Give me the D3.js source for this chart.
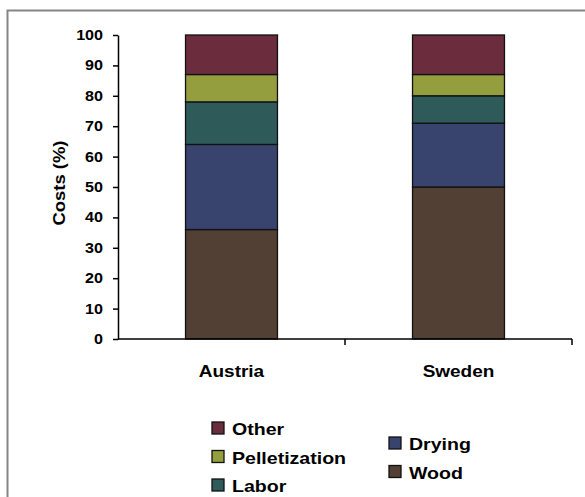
<!DOCTYPE html>
<html>
<head>
<meta charset="utf-8">
<script src="https://cdn.jsdelivr.net/npm/d3@7"></script>
<style>
  html, body { margin: 0; padding: 0; background: #fff; }
  svg { display: block; }
  text { font-family: "Liberation Sans", Arial, sans-serif; font-weight: bold; fill: #000; }
</style>
</head>
<body>
<svg id="chart" width="585" height="497"></svg>
<script>
// Cost breakdown per country (percent of total), stacked bottom to top
const categories = ["Austria", "Sweden"];
const seriesNames = ["Wood", "Drying", "Labor", "Pelletization", "Other"];
const wood = [36, 50];
const drying = [28, 21];
const labor = [14, 9];
const pelletization = [9, 7];
const other = [13, 13];
const yTicks = [0, 10, 20, 30, 40, 50, 60, 70, 80, 90, 100];
const colors = ["#524034", "#38446e", "#2e5b5a", "#959e3e", "#6b2c3e"];

const seriesValues = [wood, drying, labor, pelletization, other];
const rows = categories.map((c, i) => {
  const r = { category: c };
  seriesNames.forEach((s, k) => { r[s] = seriesValues[k][i]; });
  return r;
});

const svg = d3.select("#chart");
const stretch = 1.15;

// widen glyphs horizontally
function widen(sel) {
  sel.each(function () {
    const w = this.getComputedTextLength();
    d3.select(this).attr("textLength", w * stretch).attr("lengthAdjust", "spacingAndGlyphs");
  });
}

// outer frame
svg.append("rect")
  .attr("x", 7.5).attr("y", 10.5).attr("width", 600).attr("height", 520)
  .attr("fill", "none").attr("stroke", "#858585").attr("stroke-width", 2);

const x0 = 118, x1 = 572, yTop = 35, yBot = 339;

const x = d3.scaleBand().domain(categories).range([x0, x1])
  .paddingInner(0.595).paddingOuter(0.2975);
const y = d3.scaleLinear().domain([0, 100]).range([yBot, yTop]);

const stack = d3.stack().keys(seriesNames);
const layers = stack(rows);

const g = svg.append("g");
g.selectAll("g.layer").data(layers).join("g")
  .attr("class", "layer")
  .attr("fill", (d, i) => colors[i])
  .selectAll("rect").data(d => d).join("rect")
  .attr("x", d => x(d.data.category))
  .attr("width", x.bandwidth())
  .attr("y", d => y(d[1]))
  .attr("height", d => y(d[0]) - y(d[1]))
  .attr("stroke", "#111").attr("stroke-width", 1.3);

// y axis
const yAxis = svg.append("g")
  .attr("transform", `translate(${x0},0)`)
  .call(d3.axisLeft(y).tickValues(yTicks).tickSize(5).tickPadding(10).tickSizeOuter(0));
yAxis.select(".domain").attr("stroke", "#000").attr("stroke-width", 1.5);
yAxis.selectAll(".tick line").attr("stroke", "#000").attr("stroke-width", 1.5);
yAxis.selectAll(".tick text")
  .style("font-size", "14px").style("font-family", "Liberation Sans, Arial, sans-serif")
  .style("font-weight", "bold").attr("fill", "#000")
  .call(widen);

// x axis line with ticks at category boundaries
const step = x.step();
svg.append("line")
  .attr("x1", x0).attr("x2", x1).attr("y1", yBot).attr("y2", yBot)
  .attr("stroke", "#000").attr("stroke-width", 1.5);
const bounds = d3.range(1, categories.length + 1).map(i => x0 + i * (x1 - x0) / categories.length);
svg.selectAll("line.xtick").data(bounds).join("line")
  .attr("class", "xtick")
  .attr("x1", d => d).attr("x2", d => d)
  .attr("y1", yBot).attr("y2", yBot + 6)
  .attr("stroke", "#000").attr("stroke-width", 1.5);

svg.selectAll("text.cat").data(categories).join("text")
  .attr("class", "cat")
  .attr("x", d => x(d) + x.bandwidth() / 2)
  .attr("y", 377)
  .attr("text-anchor", "middle")
  .style("font-size", "16.5px")
  .text(d => d)
  .call(widen);

// y axis title
svg.append("text")
  .attr("transform", "translate(65,183) rotate(-90)")
  .attr("text-anchor", "middle")
  .style("font-size", "16px")
  .text("Costs (%)")
  .call(widen);

// legend: two columns
const legendItems = [
  { name: "Other", col: 0, row: 0 },
  { name: "Pelletization", col: 0, row: 1 },
  { name: "Labor", col: 0, row: 2 },
  { name: "Drying", col: 1, row: 0 },
  { name: "Wood", col: 1, row: 1 }
];
const colX = [212, 389];
const colY = [422, 437];
const rowH = 28.5;
const legend = svg.append("g");
legendItems.forEach(it => {
  const k = seriesNames.indexOf(it.name);
  const lx = colX[it.col], ly = colY[it.col] + it.row * rowH;
  legend.append("rect")
    .attr("x", lx).attr("y", ly).attr("width", 12).attr("height", 12)
    .attr("fill", colors[k]).attr("stroke", "#111").attr("stroke-width", 1.3);
  legend.append("text")
    .attr("x", lx + 20).attr("y", ly + 13)
    .style("font-size", "17px")
    .text(it.name)
    .call(widen);
});
</script>
</body>
</html>
